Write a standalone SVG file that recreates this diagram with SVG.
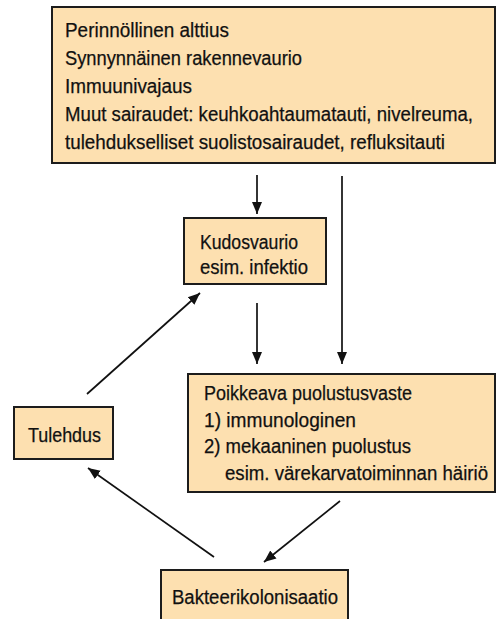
<svg xmlns="http://www.w3.org/2000/svg" width="496" height="619" viewBox="0 0 496 619">
<style>
.box{fill:#FDE0B0;stroke:#1c1c1c;stroke-width:2}
.t{font-family:"Liberation Sans",Arial,sans-serif;font-size:20px;fill:#111;stroke:#111;stroke-width:0.25}
.c{stroke:#111;stroke-width:1.7;fill:none;marker-end:url(#ah)}
</style>
<defs>
<marker id="ah" markerUnits="userSpaceOnUse" markerWidth="13" markerHeight="13" viewBox="0 0 13 13" refX="12" refY="6.5" orient="auto">
<path d="M0,1.5 L12,6.5 L0,11.5 Z" fill="#111"/>
</marker>
</defs>
<rect width="496" height="619" fill="#fff"/>
<g id="connectors">
<line class="c" x1="257" y1="175" x2="257" y2="214"/>
<line class="c" x1="342" y1="176" x2="342" y2="364"/>
<line class="c" x1="257" y1="303" x2="257" y2="364"/>
<line class="c" x1="87" y1="394" x2="200" y2="293"/>
<line class="c" x1="340" y1="501" x2="264" y2="562"/>
<line class="c" x1="214" y1="557" x2="88" y2="468"/>
</g>
<g id="risk">
<rect class="box" x="52" y="7" width="443" height="156"/>
<text class="t" x="65" y="37" textLength="164" lengthAdjust="spacingAndGlyphs">Perinnöllinen alttius</text>
<text class="t" x="65" y="65" textLength="237" lengthAdjust="spacingAndGlyphs">Synnynnäinen rakennevaurio</text>
<text class="t" x="65" y="93" textLength="127" lengthAdjust="spacingAndGlyphs">Immuunivajaus</text>
<text class="t" x="65" y="121" textLength="408" lengthAdjust="spacingAndGlyphs">Muut sairaudet: keuhkoahtaumatauti, nivelreuma,</text>
<text class="t" x="65" y="149" textLength="380" lengthAdjust="spacingAndGlyphs">tulehdukselliset suolistosairaudet, refluksitauti</text>
</g>
<g id="kudosvaurio">
<rect class="box" x="184" y="218" width="142" height="66"/>
<text class="t" x="200" y="249" textLength="98" lengthAdjust="spacingAndGlyphs">Kudosvaurio</text>
<text class="t" x="200" y="274" textLength="108" lengthAdjust="spacingAndGlyphs">esim. infektio</text>
</g>
<g id="puolustusvaste">
<rect class="box" x="188" y="374" width="307" height="118"/>
<text class="t" x="204" y="400" textLength="208" lengthAdjust="spacingAndGlyphs">Poikkeava puolustusvaste</text>
<text class="t" x="204" y="427" textLength="152" lengthAdjust="spacingAndGlyphs">1) immunologinen</text>
<text class="t" x="204" y="453" textLength="207" lengthAdjust="spacingAndGlyphs">2) mekaaninen puolustus</text>
<text class="t" x="225" y="480" textLength="263" lengthAdjust="spacingAndGlyphs">esim. värekarvatoiminnan häiriö</text>
</g>
<g id="tulehdus">
<rect class="box" x="14" y="407" width="99" height="52"/>
<text class="t" x="28" y="442" textLength="73" lengthAdjust="spacingAndGlyphs">Tulehdus</text>
</g>
<g id="bakteerikolonisaatio">
<rect class="box" x="161" y="570" width="187" height="60"/>
<text class="t" x="172" y="604" textLength="166" lengthAdjust="spacingAndGlyphs">Bakteerikolonisaatio</text>
</g>
</svg>
